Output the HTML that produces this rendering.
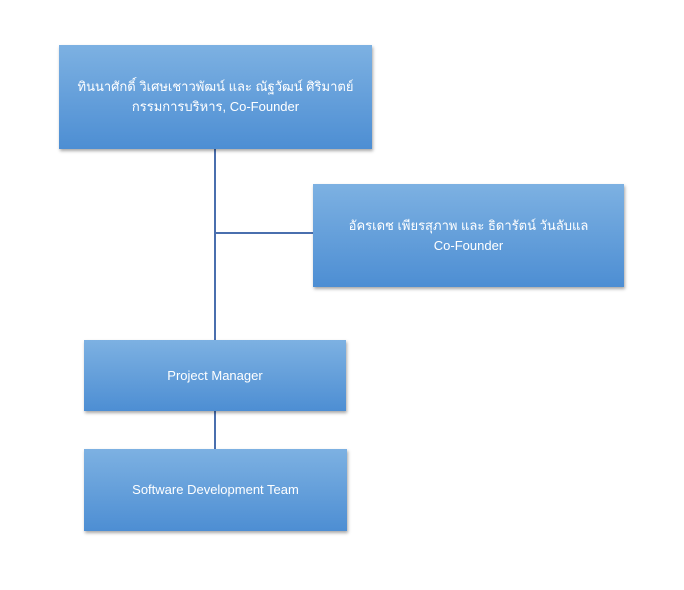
<!DOCTYPE html>
<html><head><meta charset="utf-8"><style>
body{margin:0;width:684px;height:590px;background:#fff;position:relative;overflow:hidden;font-family:"Liberation Sans","DejaVu Sans",sans-serif}
.b{position:absolute;background:linear-gradient(#7db1e2,#4d8ed3);box-shadow:1px 2px 3px rgba(0,0,0,.35);color:#fff;display:flex;align-items:center;justify-content:center;text-align:center;font-size:13px;line-height:20px}
.l{position:absolute;background:#4a6fae}
</style></head><body>
<div class="l" style="left:214px;top:149px;width:2px;height:300px"></div>
<div class="l" style="left:215px;top:232px;width:98px;height:2px"></div>
<div class="b" style="left:59px;top:45px;width:313px;height:104px">ทินนาศักดิ์ วิเศษเชาวพัฒน์ และ ณัฐวัฒน์ ศิริมาตย์<br>กรรมการบริหาร, Co-Founder</div>
<div class="b" style="left:313px;top:184px;width:311px;height:103px">อัครเดช เพียรสุภาพ และ ธิดารัตน์ วันลับแล<br>Co-Founder</div>
<div class="b" style="left:84px;top:340px;width:262px;height:71px">Project Manager</div>
<div class="b" style="left:84px;top:449px;width:263px;height:82px">Software Development Team</div>
</body></html>
